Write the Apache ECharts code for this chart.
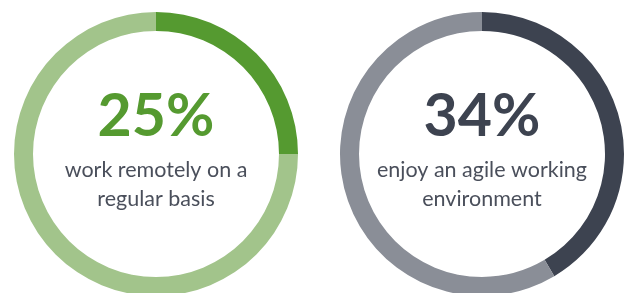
<!DOCTYPE html>
<html lang="en">
  <head>
    <meta charset="utf-8" />
    <title>Agile working</title>
    <script src="https://cdn.jsdelivr.net/npm/echarts@6/dist/echarts.min.js"></script>
    <style>
      html, body { margin: 0; padding: 0; background: #fff; }
    </style>
  </head>
  <body>
    <div id="main" style="width: 624px;height:293px;"></div>
    <script type="text/javascript">
      // numbers printed in the middle of each ring
      var shownPercents = [25, 34];
      // share of each ring drawn in the dark colour
      var arcShares = [25, 41.5];
      var captions = [
        ['work remotely on a', 'regular basis'],
        ['enjoy an agile working', 'environment']
      ];
      var darkColors = ['#559a30', '#3d4350'];
      var lightColors = ['#a2c48b', '#8a8e97'];
      var centersX = [156, 482];

      var chartDom = document.getElementById('main');
      var myChart = echarts.init(chartDom);

      var series = [];
      var graphics = [];
      arcShares.forEach(function (share, i) {
        series.push({
          type: 'pie',
          center: [centersX[i], 154],
          radius: [123, 142],
          startAngle: 90,
          clockwise: true,
          silent: true,
          animation: false,
          label: { show: false },
          labelLine: { show: false },
          itemStyle: { borderWidth: 0 },
          data: [
            { value: share, itemStyle: { color: darkColors[i] } },
            { value: 100 - share, itemStyle: { color: lightColors[i] } }
          ]
        });
        graphics.push({
          type: 'text',
          x: centersX[i],
          y: 117,
          style: {
            text: shownPercents[i] + '%',
            fill: darkColors[i],
            font: 'bold 59px Lato',
            align: 'center',
            verticalAlign: 'middle'
          }
        });
        captions[i].forEach(function (line, j) {
          graphics.push({
            type: 'text',
            x: centersX[i],
            y: 170 + j * 29,
            style: {
              text: line,
              fill: '#4a4f5b',
              font: '21.5px Lato',
              align: 'center',
              verticalAlign: 'middle'
            }
          });
        });
      });

      var option = {
        backgroundColor: '#fff',
        series: series,
        graphic: graphics
      };
      myChart.setOption(option);
    </script>
  </body>
</html>
